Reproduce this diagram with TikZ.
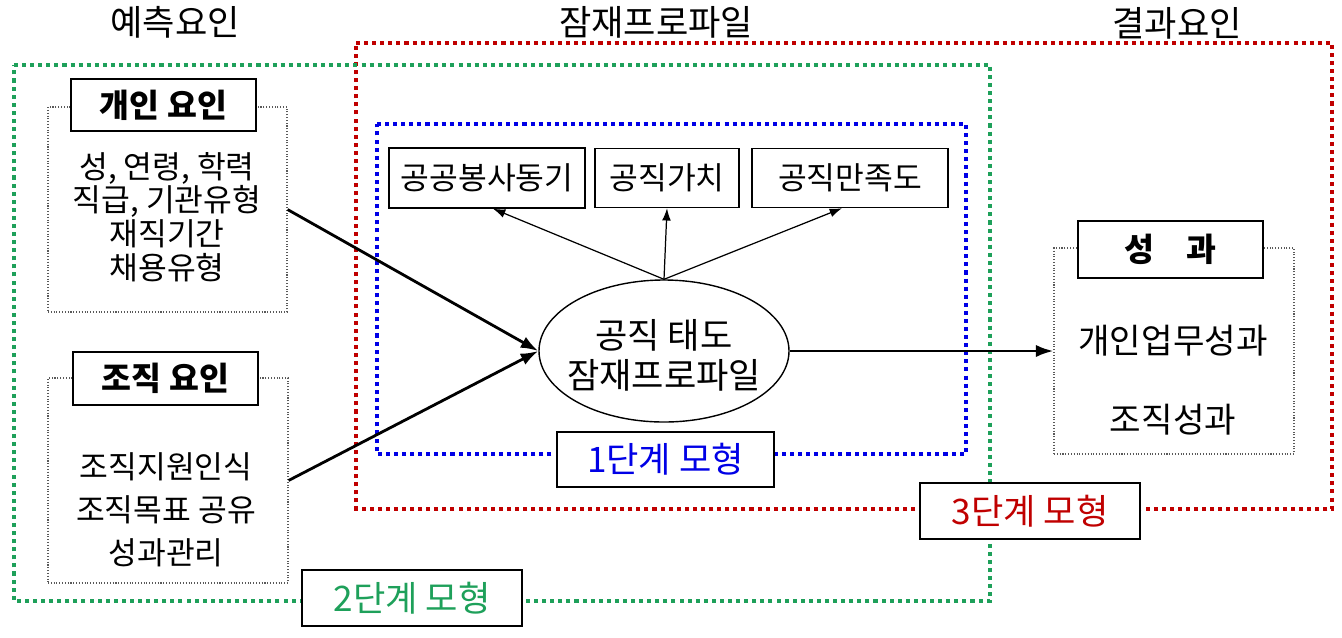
\documentclass[tikz,border=0pt]{standalone}
\usepackage{fontspec}
\setmainfont{Noto Sans CJK KR}
\usetikzlibrary{arrows.meta,shapes.geometric}
\definecolor{stepred}{RGB}{192,0,0}
\definecolor{stepgreen}{RGB}{30,160,90}
\definecolor{stepblue}{RGB}{0,0,230}
\tikzset{
	frame/.style={line width=2.3pt,dash pattern=on 2.3pt off 2.3pt},
	listbox/.style={draw=gray!70!black,densely dotted,line width=0.6pt,inner sep=0},
	headbox/.style={draw,fill=white,line width=0.9pt,inner sep=0,font=\fontsize{18.5pt}{21pt}\selectfont\bfseries},
	factbox/.style={draw,fill=white,line width=0.8pt,inner sep=0,font=\fontsize{17.8pt}{20pt}\selectfont},
	modelbox/.style={draw,fill=white,line width=0.9pt,inner sep=0,font=\fontsize{20pt}{23pt}\selectfont},
	title/.style={font=\fontsize{20pt}{23pt}\selectfont},
	body/.style={align=center,inner sep=0},
	bigarrow/.style={line width=1.6pt,-{Latex[length=10pt,width=7pt]}},
	smallarrow/.style={line width=0.7pt,-{Latex[length=7pt,width=5pt]}}
}
\begin{document}
\begin{tikzpicture}[x=0.02cm,y=-0.02cm]
	\useasboundingbox[fill=white](0,0) rectangle (1342,637);
	
	\node[title] (tpred) at (175,22) {예측요인};
	\node[title] (tlat) at (656,22) {잠재프로파일};
	\node[title] (tout) at (1177,23) {결과요인};
	
	\draw[frame][stepred](356,43)--(1332,43)--(1332,509)--(356,509)--cycle;
	\draw[frame][stepgreen](14,65)--(990,65)--(990,601)--(14,601)--cycle;
	\draw[frame][stepblue](377,124)--(966,124)--(966,454)--(377,454)--cycle;
	
	\node[listbox,minimum width=239*0.02cm,minimum height=205*0.02cm] (pers) at (167.5,209.5) {};
	\node[headbox,minimum width=185*0.02cm,minimum height=52*0.02cm] (pershead) at (163.5,105) {개인 요인};
	\node[body,font=\fontsize{17.8pt}{19.2pt}\selectfont] (perstext) at (167,217) {성, 연령, 학력\\직급, 기관유형\\재직기간\\채용유형};
	
	\node[listbox,minimum width=240*0.02cm,minimum height=205*0.02cm] (org) at (168,480.5) {};
	\node[headbox,minimum width=185*0.02cm,minimum height=53*0.02cm] (orghead) at (165.5,378.5) {조직 요인};
	\node[body,font=\fontsize{17.8pt}{24.4pt}\selectfont] (orgtext) at (166,510) {조직지원인식\\조직목표 공유\\성과관리};
	
	\node[listbox,minimum width=240*0.02cm,minimum height=206*0.02cm] (perf) at (1174,351) {};
	\node[headbox,minimum width=185*0.02cm,minimum height=57*0.02cm] (perfhead) at (1170.5,249.5) {성\hspace{1em}과};
	\node[body,font=\fontsize{19.5pt}{45pt}\selectfont] (perftext) at (1173,380) {개인업무성과\\조직성과};
	
	\node[factbox,minimum width=196*0.02cm,minimum height=60*0.02cm] (pub) at (487,178) {공공봉사동기};
	\node[factbox,minimum width=144*0.02cm,minimum height=59*0.02cm] (val) at (667,178) {공직가치};
	\node[factbox,minimum width=196*0.02cm,minimum height=59*0.02cm] (sat) at (850,178) {공직만족도};
	
	\node[ellipse,draw,line width=0.8pt,fill=white,inner sep=0,minimum width=250*0.02cm,minimum height=142*0.02cm] (att) at (664,351) {};
	\node[body,font=\fontsize{20pt}{22.7pt}\selectfont] (atttext) at (664,355) {공직 태도\\잠재프로파일};
	
	\node[modelbox,text=stepblue,minimum width=217*0.02cm,minimum height=55*0.02cm] (m1) at (665.5,459.5) {1단계 모형};
	\node[modelbox,text=stepgreen,minimum width=220*0.02cm,minimum height=56*0.02cm] (m2) at (412,598) {2단계 모형};
	\node[modelbox,text=stepred,minimum width=220*0.02cm,minimum height=56*0.02cm] (m3) at (1030,511) {3단계 모형};
	
	\draw[smallarrow](att.north)--([xshift=6*0.02cm]pub.south);
	\draw[smallarrow](att.north)--(val.south);
	\draw[smallarrow](att.north)--([xshift=-8*0.02cm]sat.south);
	
	\draw[bigarrow](pers.east)--(att.west);
	\draw[bigarrow](org.east)--(att.west);
	\draw[bigarrow](att.east)--(perf.west);
	
\end{tikzpicture}
\end{document}
